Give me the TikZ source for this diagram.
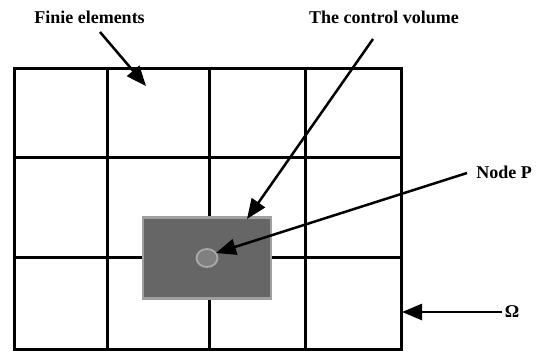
\documentclass[tikz,border=0pt]{standalone}
\usepackage{fontspec}
\setmainfont{Liberation Serif}
\usetikzlibrary{arrows.meta,shapes.geometric}
\begin{document}
\begin{tikzpicture}[x=1pt,y=-1pt,
  gridline/.style={line width=3pt,black},
  lbl/.style={font=\fontsize{18}{20}\selectfont\bfseries,inner sep=0pt,text=black},
  pointer/.style={line width=2.5pt,-{Triangle[length=20pt,width=16pt]}}]
\useasboundingbox (0,0) rectangle (537,351);
% grid
\draw[gridline] (14,68) rectangle (401,349);
\foreach \x in {107,209,305} \draw[gridline] (\x,68) -- (\x,349);
\foreach \y in {157,257} \draw[gridline] (14,\y) -- (401,\y);
% control volume
\node[draw={rgb,255:red,160;green,160;blue,160},fill={rgb,255:red,102;green,102;blue,102},line width=2.5pt,
  minimum width=128pt,minimum height=81pt,inner sep=0pt] (cv) at (207,258) {};
\node[ellipse,draw={rgb,255:red,170;green,170;blue,170},fill={rgb,255:red,128;green,128;blue,128},line width=1.8pt,
  minimum width=21pt,minimum height=18pt,inner sep=0pt] (p) at (207,258) {};
% labels
\node[lbl] (lfe) at (89.5,17) {Finie elements};
\node[lbl] (lcv) at (384,17) {The control volume};
\node[lbl] (lp) at (504,172) {Node P};
\node[lbl] (lo) at (512,312) {Ω};
% connector ends
\coordinate (fes) at (100,32);
\coordinate (fet) at (146,86);
\coordinate (cvs) at (373,39);
\coordinate (cvt) at (247,219);
\coordinate (ps) at (467,173);
\coordinate (pt) at (216,253);
\coordinate (os) at (502,312);
\coordinate (ot) at (402,312);
\draw[pointer] (fes) -- (fet);
\draw[pointer] (cvs) -- (cvt);
\draw[pointer] (ps) -- (pt);
\draw[pointer] (os) -- (ot);
\end{tikzpicture}
\end{document}
